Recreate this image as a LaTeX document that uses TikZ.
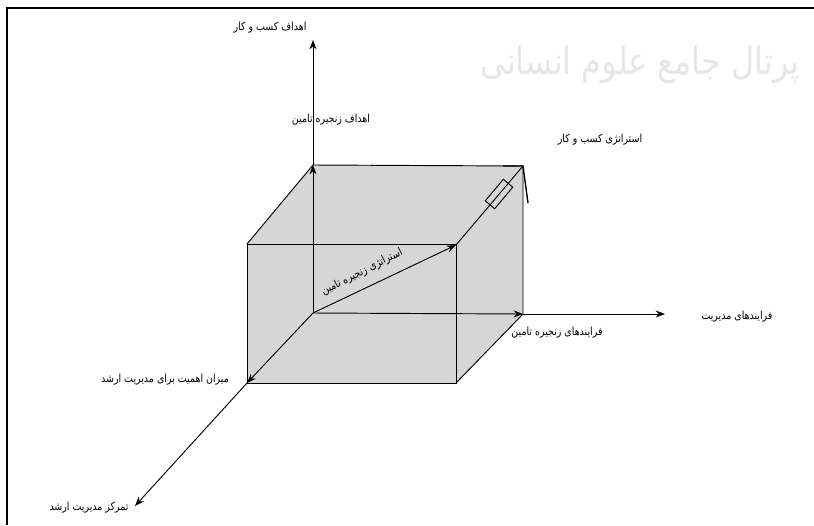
\documentclass[tikz,border=0pt]{standalone}
\usepackage{fontspec}
\usepackage{tikz}
\usetikzlibrary{arrows.meta,positioning,calc}
\TeXXeTstate=1
\newfontfamily\persianfont[Script=Arabic,FakeStretch=0.85]{DejaVu Sans}
\definecolor{cubegray}{RGB}{214,214,214}
\definecolor{markgray}{RGB}{230,230,230}
\newcommand{\Rtl}[1]{{\persianfont\beginR #1\endR}}
\tikzset{
  axis/.style={line width=0.8pt, -{Stealth[length=8pt,width=6pt]}},
  edge/.style={line width=0.8pt},
  lbl/.style={font=\fontsize{9.5}{11}\selectfont, inner sep=1pt},
}

\begin{document}
\begin{tikzpicture}[x=0.03cm,y=-0.03cm]
    \useasboundingbox (0,0) rectangle (814,525);
    \draw[line width=1pt] (7,525) -- (7,8) -- (814,8);
    \node[text=markgray, font=\fontsize{32}{34}\selectfont] (mark) at (640,65)
      {\Rtl{پرتال جامع علوم انسانی}};
    % cube corners
    \coordinate (O) at (313,313);
    \coordinate (bt1) at (313,165);
    \coordinate (bt2) at (523,166);
    \coordinate (bb2) at (523,314);
    \coordinate (ft1) at (247,244);
    \coordinate (ft2) at (456,245);
    \coordinate (fb1) at (247,383);
    \coordinate (fb2) at (456,383);
    \coordinate (yt) at (313,40);
    \coordinate (xt) at (665,314);
    \coordinate (zt) at (135,506);
    \fill[cubegray] (ft1) -- (bt1) -- (bt2) -- (bb2) -- (fb2) -- (fb1) -- cycle;
    \draw[edge] (ft1) rectangle (fb2);
    \draw[edge] (ft1) -- (bt1) -- (bt2) -- (bb2) -- (fb2);
    \draw[edge] (ft2) -- (bt2);
    % axes
    \draw[axis] (O) -- (bt1);
    \draw[axis] (bt1) -- (yt);
    \draw[axis] (O) -- (bb2);
    \draw[axis] (bb2) -- (xt);
    \draw[axis] (O) -- (fb1);
    \draw[axis] (fb1) -- (zt);
    \draw[axis] (O) -- (ft2);
    % hollow arrow on the top edge
    \node[draw, edge, minimum width=24pt, minimum height=10.5pt, rotate=50] (shaft) at (499,194) {};
    \draw[line width=1.2pt, line join=miter] (503,166) -- (bt2) -- (528,203);
    % labels
    \node[lbl] (busgoal) at (270,28) {\Rtl{اهداف کسب و کار}};
    \node[lbl] (scgoal) at (331,120) {\Rtl{اهداف زنجیره تامین}};
    \node[lbl] (busstrat) at (600,140) {\Rtl{استراتژی کسب و کار}};
    \node[lbl, rotate=27] (scstrat) at (362,272) {\Rtl{استراتژی زنجیره تامین}};
    \node[lbl] (mgmtproc) at (737,317) {\Rtl{فرایندهای مدیریت}};
    \node[lbl] (scproc) at (557,333) {\Rtl{فرایندهای زنجیره تامین}};
    \node[lbl] (importance) at (165,380) {\Rtl{میزان اهمیت برای مدیریت ارشد}};
    \node[lbl] (focus) at (89,508) {\Rtl{تمرکز مدیریت ارشد}};
\end{tikzpicture}
\end{document}
